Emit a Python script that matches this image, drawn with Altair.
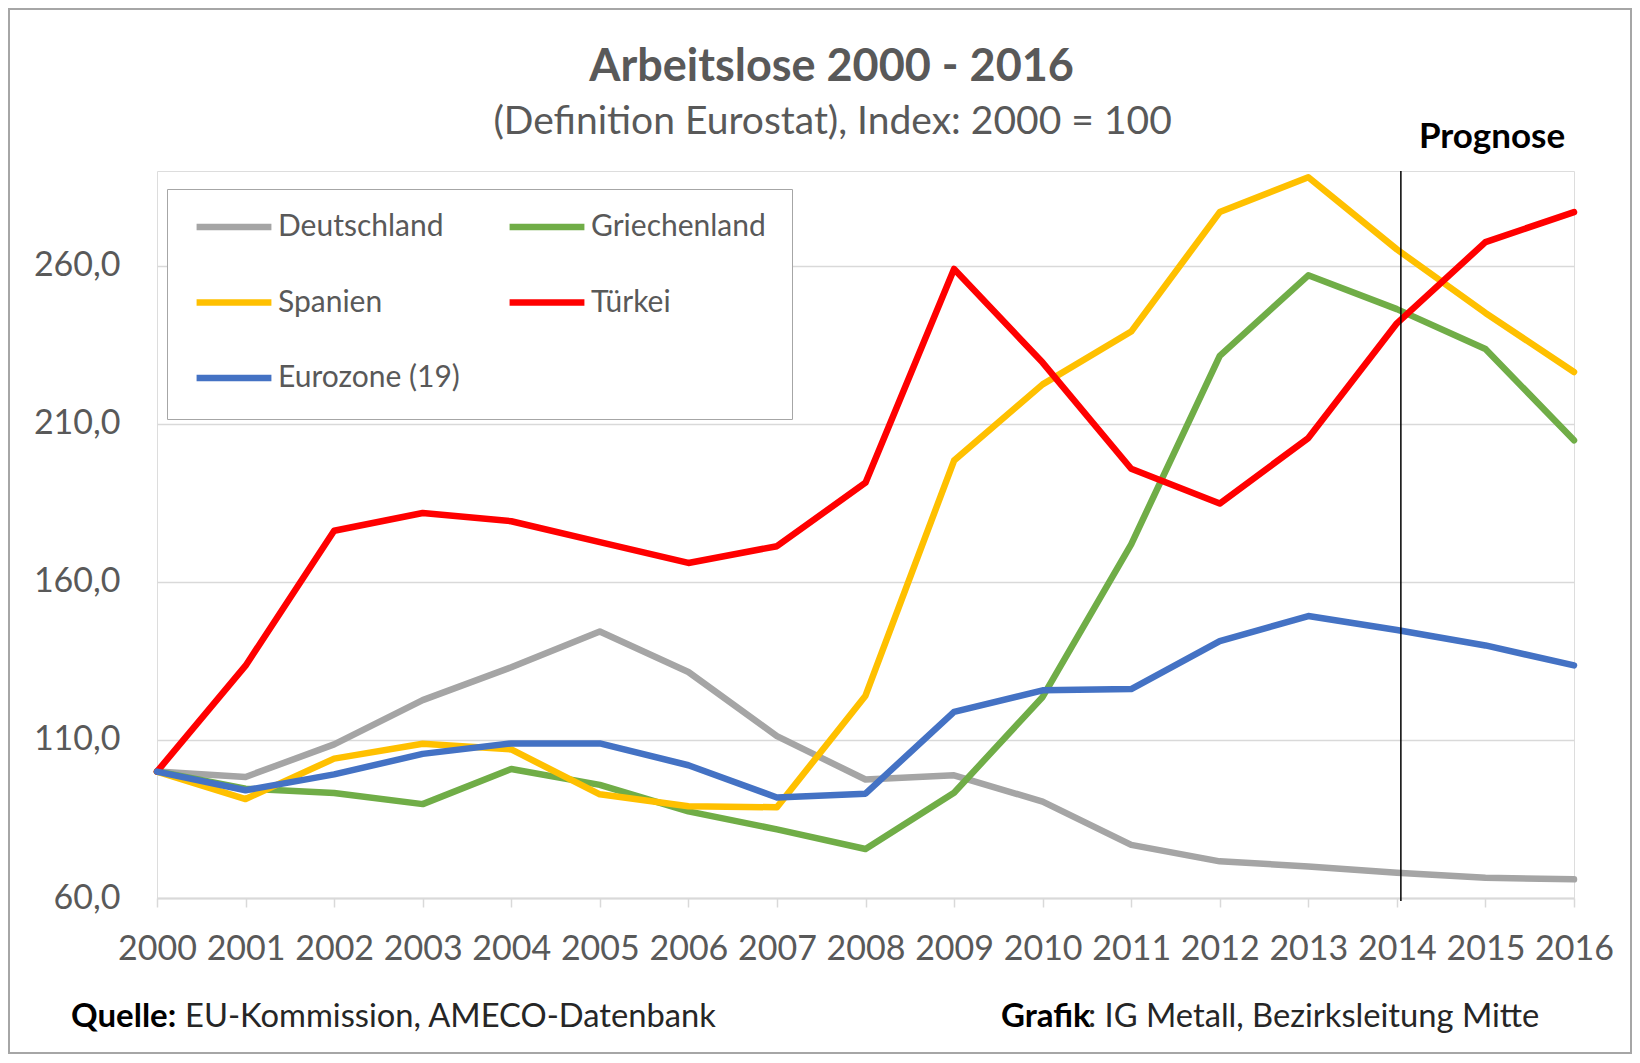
import altair as alt
import pandas as pd

# ---------------- data ----------------
years = list(range(2000, 2017))
series_names = ["Deutschland", "Griechenland", "Spanien", "Türkei", "Eurozone (19)"]
series_colors = ["#A5A5A5", "#70AD47", "#FFC000", "#FF0000", "#4472C4"]
# legend order (filled column by column, 3 rows): gives rows D/G, S/T, E
legend_order = ["Deutschland", "Spanien", "Eurozone (19)", "Griechenland", "Türkei"]

deutschland = [100, 98.3, 108.6, 122.6, 133.0, 144.3, 131.5, 111.2, 97.5, 98.8, 90.5, 76.8, 71.6, 70.0, 68.0, 66.4, 65.9]
griechenland = [100, 94.6, 93.2, 89.7, 100.8, 95.8, 87.4, 81.7, 75.5, 93.3, 123.6, 171.9, 231.5, 257.0, 246.3, 233.7, 204.8]
spanien = [100, 91.3, 104.1, 108.8, 107.0, 92.8, 89.0, 88.7, 124.0, 198.4, 222.5, 239.2, 277.0, 288.0, 265.2, 245.1, 226.4]
tuerkei = [100, 133.5, 176.2, 181.8, 179.2, 172.6, 166.0, 171.3, 191.4, 259.0, 229.4, 195.8, 184.8, 205.5, 241.8, 267.5, 277.0]
eurozone = [100, 94.1, 99.1, 105.6, 108.9, 108.9, 102.0, 91.8, 93.0, 118.9, 125.7, 126.1, 141.3, 149.2, 144.8, 139.9, 133.6]

y_ticks = [60, 110, 160, 210, 260]
prognose_year = [2014]

title_text = ["Arbeitslose 2000 - 2016"]
subtitle_text = ["(Definition Eurostat), Index: 2000 = 100"]
prognose_label = ["Prognose"]
footer_bold = ["Quelle:", "Grafik"]
footer_normal = ["EU-Kommission, AMECO-Datenbank", ": IG Metall, Bezirksleitung Mitte"]

# ---------------- tables ----------------
values = [deutschland, griechenland, spanien, tuerkei, eurozone]
rows = []
for name, vals in zip(series_names, values):
    for yr, v in zip(years, vals):
        rows.append({"Jahr": yr, "Wert": v, "Land": name})
df = pd.DataFrame(rows)

W, H = 1417, 727
FONT = "Lato"
TXT = "#595959"

x_scale = alt.Scale(domain=[2000, 2016], nice=False, zero=False)
y_scale = alt.Scale(domain=[60, 290], nice=False, zero=False)
color_map = dict(zip(series_names, series_colors))
color_scale = alt.Scale(domain=legend_order, range=[color_map[n] for n in legend_order])

legend = alt.Legend(
    title=None, orient="none", legendX=10, legendY=18, columns=2, direction="vertical",
    symbolType="stroke", symbolSize=5600, symbolStrokeWidth=6.5,
    labelFont=FONT, labelFontSize=30, labelColor=TXT, labelOffset=3,
    fillColor="white", strokeColor="#A6A6A6",
    padding=26, clipHeight=24, rowPadding=45.5, columnPadding=46, labelLimit=400,
)

base = alt.Chart(df)
layers = []
for name in series_names:
    layers.append(
        base.transform_filter(alt.datum.Land == name)
        .mark_line(strokeWidth=6.5, strokeCap="round", strokeJoin="round")
        .encode(
            x=alt.X("Jahr:Q", scale=x_scale,
                    axis=alt.Axis(values=years, format="d", title=None, grid=False,
                                  labelFont=FONT, labelFontSize=34, labelColor=TXT,
                                  labelPadding=25, tickColor="#D9D9D9", tickSize=9,
                                  tickWidth=1.5, domainColor="#D9D9D9", domainWidth=2,
                                  labelOverlap=False, labelFlush=False)),
            y=alt.Y("Wert:Q", scale=y_scale,
                    axis=alt.Axis(values=y_ticks, title=None, grid=True,
                                  gridColor="#D9D9D9", gridWidth=1.5,
                                  labelExpr="replace(format(datum.value, '.1f'), '.', ',')",
                                  labelFont=FONT, labelFontSize=34, labelColor=TXT,
                                  labelPadding=37, ticks=False, domain=False)),
            color=alt.Color("Land:N", scale=color_scale, legend=legend),
        )
    )

prog_df = pd.DataFrame({"Jahr": prognose_year, "label": prognose_label})
prog_rule = alt.Chart(prog_df).mark_rule(color="black", strokeWidth=1.5, xOffset=4).encode(
    x=alt.X("Jahr:Q", scale=x_scale), y=alt.value(0), y2=alt.value(H + 3)
)
prog_text = alt.Chart(prog_df).mark_text(
    font=FONT, fontSize=35, fontWeight="bold", color="black", align="left",
    baseline="middle", dx=22
).encode(x=alt.X("Jahr:Q", scale=x_scale), y=alt.value(-34), text="label:N")

title_df = pd.DataFrame({"t": title_text, "s": subtitle_text})
title_mark = alt.Chart(title_df).mark_text(
    font=FONT, fontSize=45, fontWeight="bold", color=TXT, align="center", baseline="middle"
).encode(x=alt.value(674.6), y=alt.value(-104), text="t:N")
subtitle_mark = alt.Chart(title_df).mark_text(
    font=FONT, fontSize=39, color=TXT, align="center", baseline="middle"
).encode(x=alt.value(675.6), y=alt.value(-49), text="s:N")

foot_df = pd.DataFrame({"bold": footer_bold, "normal": footer_normal,
                        "xb": [-86, 844], "xn": [28, 931]})
foot_bold = alt.Chart(foot_df).mark_text(
    font=FONT, fontSize=33, fontWeight="bold", color="black", align="left", baseline="middle"
).encode(x=alt.X("xb:Q", scale=None), y=alt.value(846), text="bold:N")
foot_norm = alt.Chart(foot_df).mark_text(
    font=FONT, fontSize=32.7, color="#262626", align="left", baseline="middle"
).encode(x=alt.X("xn:Q", scale=None), y=alt.value(846), text="normal:N")

frame = alt.Chart(pd.DataFrame({"a": [0]})).mark_rect(
    fill="white", fillOpacity=0, stroke="#A6A6A6", strokeWidth=2
).encode(x=alt.value(-148), x2=alt.value(1474), y=alt.value(-162), y2=alt.value(882))

chart = alt.layer(frame, *layers, prog_rule, prog_text, title_mark, subtitle_mark,
                  foot_bold, foot_norm).properties(
    width=W, height=H, padding=0,
).configure_view(fill="#E5E5E5", stroke=None).configure(background="white")

chart.save("out.html", embed_options={"renderer": "svg", "actions": False})
